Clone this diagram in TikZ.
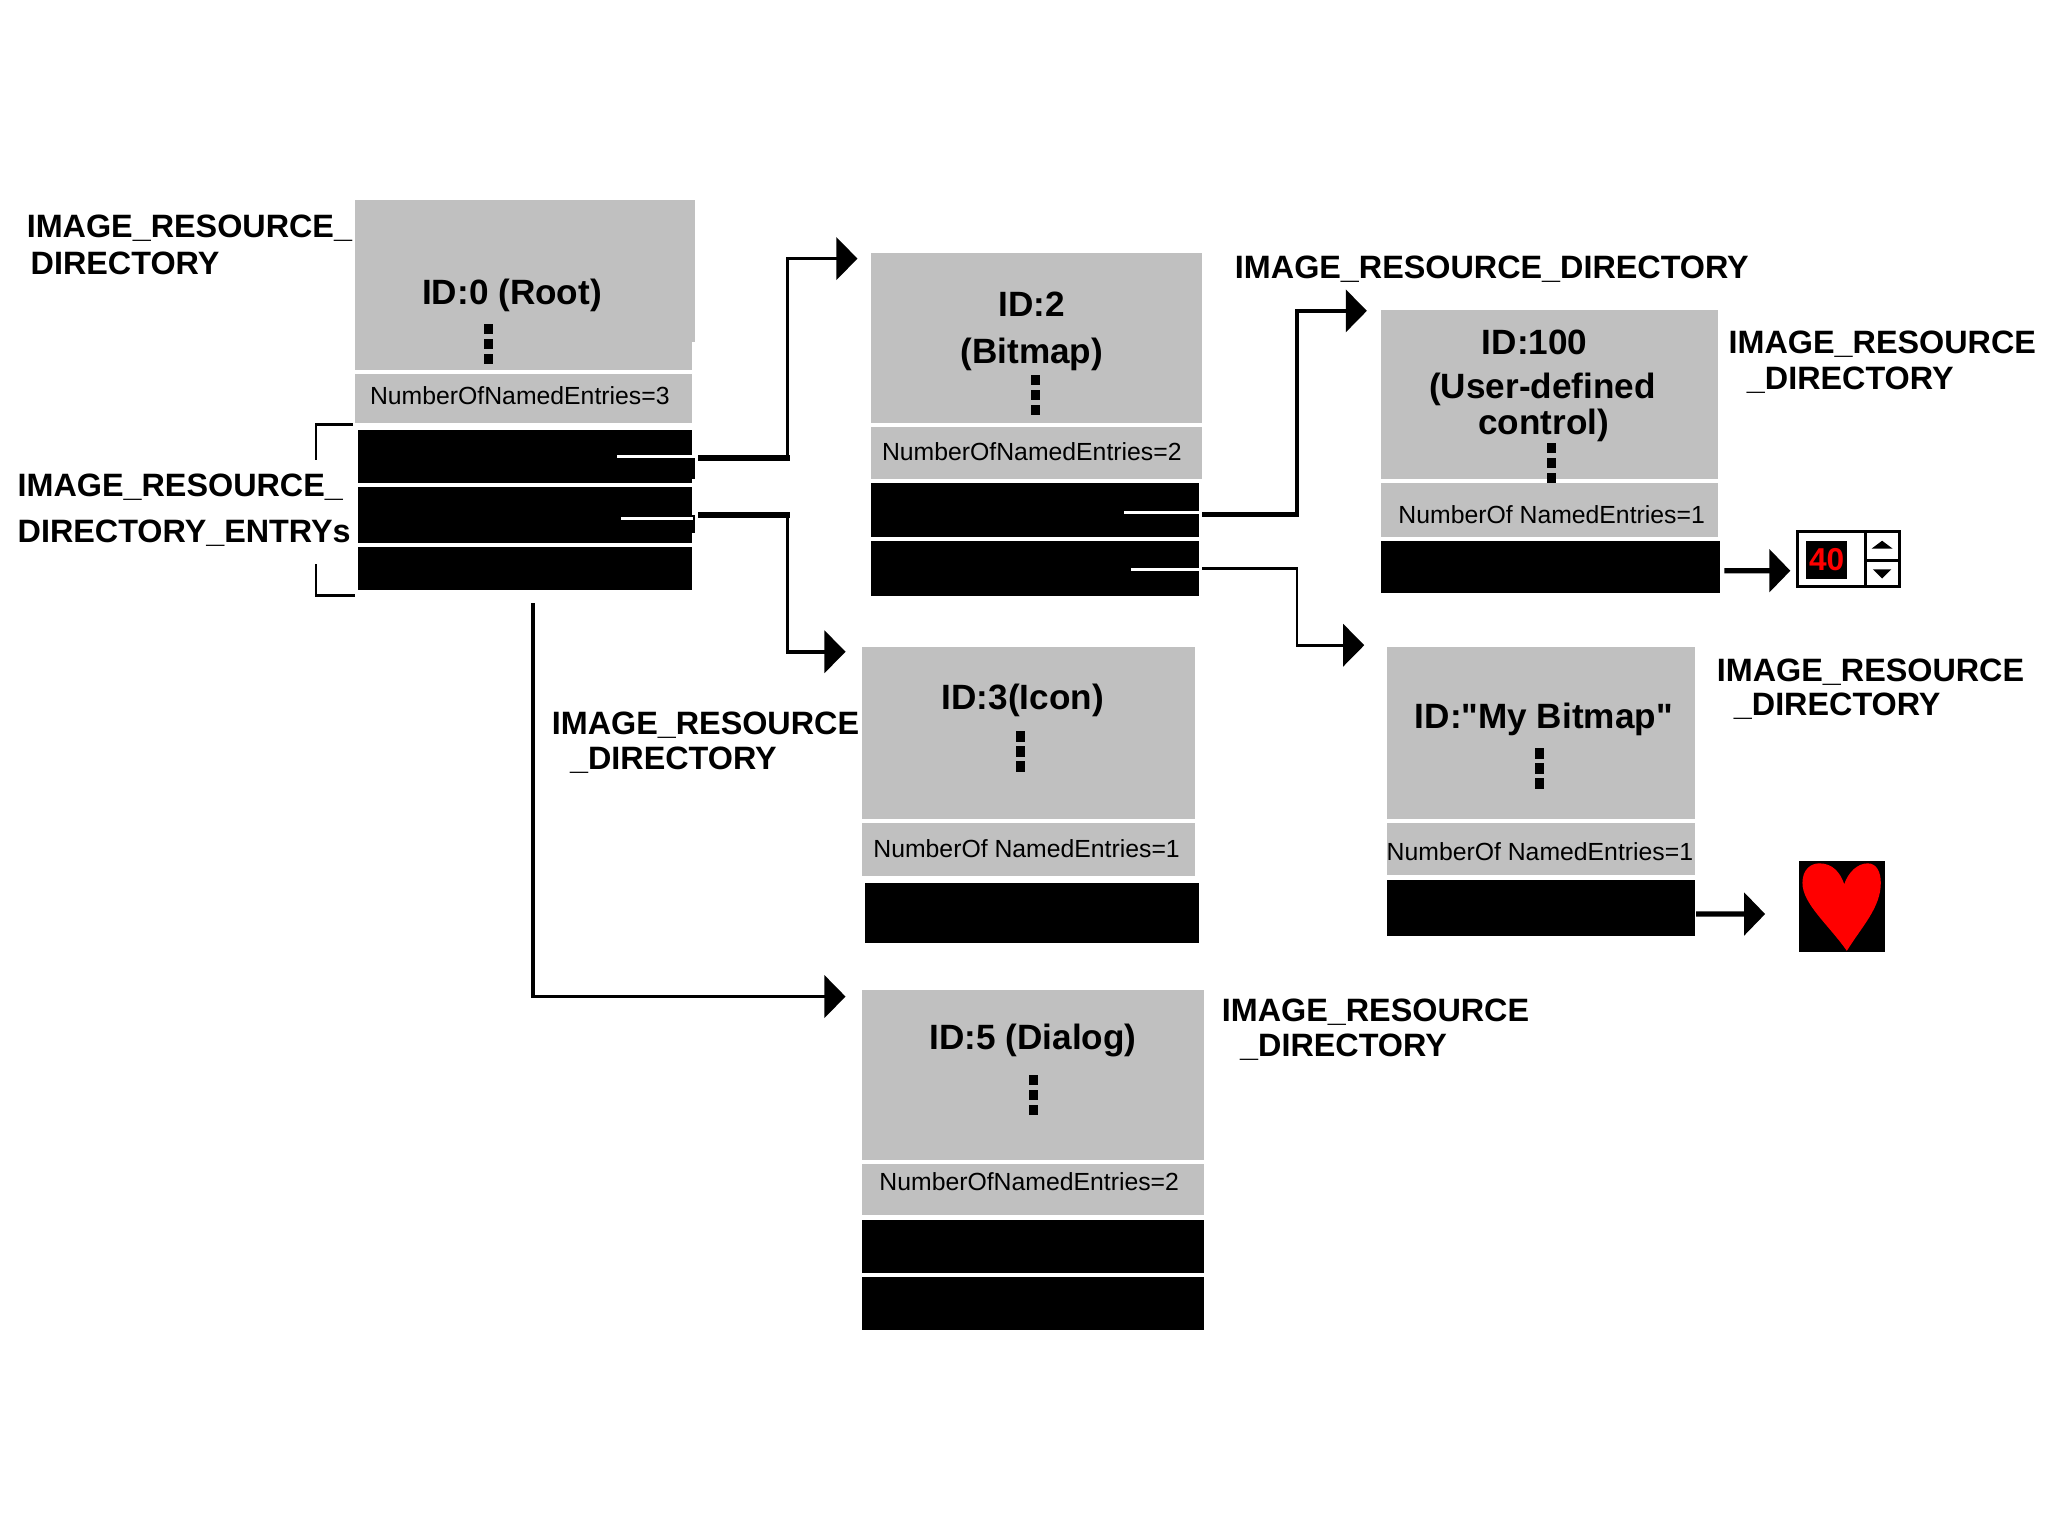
\documentclass[tikz,border=0pt]{standalone}
\usepackage{fontspec}
\setmainfont{Liberation Sans}
\newfontfamily\straightfont{Liberation Sans}
\usepackage{xcolor}
\usepackage{tikz}
\usetikzlibrary{arrows.meta,fit,calc}
\definecolor{dirgray}{RGB}{192,192,192}
\tikzset{
  graybox/.style={fill=dirgray,draw=none,inner sep=0pt,fit={#1}},
  blackbox/.style={fill=black,draw=none,inner sep=0pt,fit={#1}},
  idtext/.style={font=\fontsize{10}{12}\selectfont\straightfont\bfseries,inner sep=0pt},
  counttext/.style={font=\fontsize{7.05}{9}\selectfont,inner sep=0pt},
  dirlabel/.style={font=\fontsize{9.2}{11}\selectfont\bfseries,inner sep=0pt,anchor=base west},
  link/.style={line width=1pt,-{Triangle[length=6pt,width=12pt]}},
  stub/.style={line width=1.6pt},
  hairline/.style={white,line width=0.8pt},
}

\begin{document}
\begin{tikzpicture}[x=0.013061cm,y=-0.013061cm]
  \useasboundingbox (0,0) rectangle (1568,1176);
  \fill[white] (0,0) rectangle (1568,1176);

  % root directory
  \node[graybox={(272,153)(530,283)}] (rootHead) {};
  \fill[dirgray] (530,153) rectangle (532,262);
  \node[graybox={(272,286)(530,324)}] (rootCount) {};
  \node[blackbox={(274,329)(530,370)}] (rootA) {};
  \node[blackbox={(274,373)(530,416)}] (rootB) {};
  \node[blackbox={(274,419)(530,452)}] (rootC) {};
  \fill[black] (530,351) rectangle (532,367);
  \fill[black] (530,394) rectangle (532,408);
  \node[idtext] (rootId) at (392,226) {ID:0 (Root)};
  \node[counttext] (rootNum) at (398,303) {NumberOfNamedEntries=3};

  % bitmap directory
  \node[graybox={(667,194)(920,324)}] (bitmapHead) {};
  \node[graybox={(667,327)(920,367)}] (bitmapCount) {};
  \node[blackbox={(667,370)(918,411)}] (bitmapA) {};
  \node[blackbox={(667,414)(918,456)}] (bitmapB) {};
  \node[idtext] (bitmapId) at (790,233) {ID:2};
  \node[idtext] (bitmapName) at (790,271) {(Bitmap)};
  \node[counttext] (bitmapNum) at (790,346) {NumberOfNamedEntries=2};

  % icon directory
  \node[graybox={(660,495)(915,627)}] (iconHead) {};
  \node[graybox={(660,630)(915,671)}] (iconCount) {};
  \node[blackbox={(662,676)(918,722)}] (iconA) {};
  \node[idtext] (iconId) at (783,536) {ID:3(Icon)};
  \node[counttext] (iconNum) at (786,650) {NumberOf NamedEntries=1};

  % dialog directory
  \node[graybox={(660,758)(922,888)}] (dialogHead) {};
  \node[graybox={(660,891)(922,930)}] (dialogCount) {};
  \node[blackbox={(660,934)(922,975)}] (dialogA) {};
  \node[blackbox={(660,978)(922,1018)}] (dialogB) {};
  \node[idtext] (dialogId) at (791,797) {ID:5 (Dialog)};
  \node[counttext] (dialogNum) at (788,905) {NumberOfNamedEntries=2};

  % user-defined control directory
  \node[graybox={(1057,237)(1315,367)}] (userHead) {};
  \node[graybox={(1057,370)(1315,411)}] (userCount) {};
  \node[blackbox={(1057,414)(1317,454)}] (userA) {};
  \node[idtext] (userId) at (1175,262) {ID:100};
  \node[idtext] (userNameA) at (1181,298) {(User-defined};
  \node[idtext] (userNameB) at (1182,326) {control)};
  \node[counttext] (userNum) at (1188,394) {NumberOf NamedEntries=1};

  % named bitmap directory
  \node[graybox={(1062,495)(1298,627)}] (mineHead) {};
  \node[graybox={(1062,630)(1298,670)}] (mineCount) {};
  \node[blackbox={(1062,674)(1298,717)}] (mineA) {};
  \node[idtext] (mineId) at (1182,551) {ID:"My Bitmap"};
  \node[counttext] (mineNum) at (1179,652) {NumberOf NamedEntries=1};

  % three dots in each head
  \foreach \x/\y in {374/248,793/287,1188/339,781/560,1179/573,791/823}
    \foreach \i in {0,1,2}
      \fill[black] (\x-3.5,\y+\i*11.5) rectangle ++(7,8);

  % labels
  \node[dirlabel] (lblRootA) at (20,182) {IMAGE\_RESOURCE\_};
  \node[dirlabel] (lblRootB) at (23,210) {DIRECTORY};
  \node[dirlabel] (lblEntryA) at (13,380) {IMAGE\_RESOURCE\_};
  \node[dirlabel] (lblEntryB) at (13,415) {DIRECTORY\_ENTRYs};
  \node[dirlabel] (lblBitmap) at (945,213) {IMAGE\_RESOURCE\_DIRECTORY};
  \node[dirlabel] (lblUserA) at (1323,271) {IMAGE\_RESOURCE};
  \node[dirlabel] (lblUserB) at (1337,298) {\_DIRECTORY};
  \node[dirlabel] (lblMineA) at (1314,522) {IMAGE\_RESOURCE};
  \node[dirlabel] (lblMineB) at (1327,548) {\_DIRECTORY};
  \node[dirlabel] (lblIconA) at (422,562) {IMAGE\_RESOURCE};
  \node[dirlabel] (lblIconB) at (436,589) {\_DIRECTORY};
  \node[dirlabel] (lblDialogA) at (935,782) {IMAGE\_RESOURCE};
  \node[dirlabel] (lblDialogB) at (949,809) {\_DIRECTORY};

  % bracket round the entries
  \coordinate (braceA) at (242,352);
  \coordinate (braceB) at (270,325);
  \coordinate (braceC) at (242,432);
  \coordinate (braceD) at (272,456);
  \draw[line width=0.8pt] (braceA) |- (braceB);
  \draw[line width=0.8pt] (braceC) |- (braceD);

  % white marks inside the entries
  \draw[hairline] (rootA.east) -- ++(-58,0);
  \draw[hairline] ([yshift=-0.9pt]rootB.east) -- ++(-55,0);
  \draw[hairline] ([yshift=-0.6pt]bitmapA.east) -- ++(-58,0);
  \draw[hairline] ([yshift=-0.4pt]bitmapB.east) -- ++(-53,0);

  % corners of the connectors
  \coordinate (elbowA) at (603,198);
  \coordinate (elbowB) at (603,499);
  \coordinate (elbowC) at (993,238);
  \coordinate (elbowD) at (993,494);
  \coordinate (rootOut) at (408,462);
  \coordinate (elbowE) at (408,763);

  \draw[link,shorten <=1.5pt,shorten >=3.7pt] ([yshift=-0.5pt]rootA.east) -| (elbowA) -- (bitmapHead.west |- elbowA);
  \draw[stub,shorten <=1.5pt] ([yshift=-0.5pt]rootA.east) -- ++(74,0);
  \draw[link,shorten <=1.5pt,shorten >=4.5pt] (rootB.east) -| (elbowB) -- (iconHead.west |- elbowB);
  \draw[stub,shorten <=1.5pt] (rootB.east) -- ++(74,0);
  \draw[link,shorten >=4.5pt] (rootOut) |- (dialogHead.west |- elbowE);
  \draw[link,shorten <=0.7pt,shorten >=3.7pt] ([yshift=-1.3pt]bitmapA.east) -| (elbowC) -- (userHead.west |- elbowC);
  \draw[stub,shorten <=0.7pt] ([yshift=-1.3pt]bitmapA.east) -- ++(76,0);
  \draw[link,line width=0.8pt,shorten <=0.7pt,shorten >=6.3pt] (bitmapB.east) -| (elbowD) -- (mineHead.west |- elbowD);

  % spin control
  \node[draw=black,line width=0.9pt,fill=white,inner sep=0pt,fit={(1376,407)(1454,449)}] (spin) {};
  \node[fill=black,inner sep=0pt,fit={(1383,414)(1414,443)}] (spinBox) {};
  \node[text=red,font=\fontsize{9}{11}\selectfont\bfseries,inner sep=0pt] (spinVal) at (spinBox) {40};
  \draw[line width=0.9pt] (1428,407) -- (1428,449);
  \draw[line width=0.9pt] (1428,429) -- (1454,429);
  \fill[black] (1433,420) -- (1441,414) -- (1449,420) -- cycle;
  \fill[black] (1434,436) -- (1441,443) -- (1448,436) -- cycle;
  \draw[link,line width=1.5pt,shorten <=1pt,shorten >=1.5pt] ([yshift=-1.1pt]userA.east) -- (spin.west |- {$(userA.east)+(0,3)$});

  % heart picture
  \node[fill=black,inner sep=0pt,fit={(1377,659)(1443,729)}] (heart) {};
  \fill[red] (1414,728) .. controls (1400,708) and (1380,692) .. (1380,676)
    .. controls (1380,666) and (1386,661) .. (1393,661)
    .. controls (1403,661) and (1409,668) .. (1412,677)
    .. controls (1415,668) and (1422,661) .. (1430,661)
    .. controls (1437,661) and (1440,668) .. (1440,676)
    .. controls (1440,695) and (1425,710) .. (1414,728) -- cycle;
  \draw[link,line width=1.5pt,shorten >=9.3pt] ([yshift=-1.6pt]mineA.east) -- (heart.west |- {$(mineA.east)+(0,4.3)$});
\end{tikzpicture}
\end{document}
